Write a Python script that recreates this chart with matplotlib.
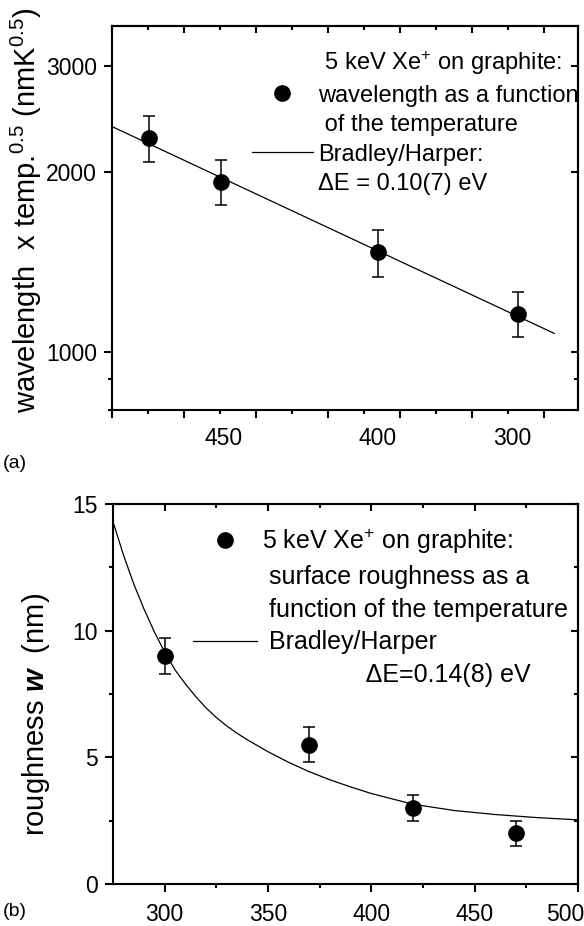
import numpy as np
import matplotlib.pyplot as plt
from matplotlib.lines import Line2D
from matplotlib.ticker import NullFormatter
from matplotlib.transforms import ScaledTranslation

plt.rcParams['font.family'] = ['Liberation Sans', 'DejaVu Sans']
plt.rcParams['mathtext.fontset'] = 'custom'
plt.rcParams['mathtext.rm'] = 'Liberation Sans'
plt.rcParams['mathtext.it'] = 'Liberation Sans:italic'
plt.rcParams['mathtext.bf'] = 'Liberation Sans:bold'
plt.rcParams['mathtext.bfit'] = 'Liberation Sans:italic:bold'

# (a) wavelength x temp^0.5, x axis in arbitrary inverse-temperature units
x_wave = [0.514, 1.51, 3.69, 5.63]
y_wave = [2274, 1924, 1466, 1159]
err_wave = [200, 168, 130, 99]
x_wave_fit = [0.0, 6.14]
y_wave_fit = [2377, 1074]
temp_labels = ['450', '400', '300']
temp_label_pos = [1.54, 3.69, 5.55]

# (b) roughness vs temperature
temp = [300, 370, 420, 470]
rough = [9.0, 5.5, 3.0, 2.0]
err_rough = [0.7, 0.7, 0.5, 0.5]
temp_fit = [275, 280, 285, 290, 295, 300, 305, 310, 315, 320, 325, 330, 335, 340,
            350, 360, 370, 380, 390, 400, 420, 440, 460, 480, 500]
rough_fit = [14.3, 13.0, 11.85, 10.85, 9.95, 9.15, 8.45, 7.9, 7.4, 6.95, 6.57, 6.24,
             5.95, 5.69, 5.22, 4.8, 4.43, 4.11, 3.83, 3.57, 3.15, 2.9, 2.74, 2.62, 2.53]


def inner_ticks(ax, xmaj, xmin, ymaj, ymin):
    top = ax.secondary_xaxis('top')
    top.set_xticks(xmaj)
    top.set_xticks(xmin, minor=True)
    top.tick_params(which='both', direction='in', labeltop=False, width=1.5)
    top.tick_params(which='major', length=5)
    top.tick_params(which='minor', length=3)
    top.xaxis.set_minor_formatter(NullFormatter())
    right = ax.secondary_yaxis('right')
    right.set_yticks(ymaj)
    right.set_yticks(ymin, minor=True)
    right.tick_params(which='both', direction='in', labelright=False, width=1.5)
    right.tick_params(which='major', length=5)
    right.tick_params(which='minor', length=3)
    right.yaxis.set_minor_formatter(NullFormatter())
    for sec in (top, right):
        for s in sec.spines.values():
            s.set_linewidth(1.5)


def style(ax):
    for s in ax.spines.values():
        s.set_linewidth(1.5)
    ax.tick_params(which='both', direction='out', width=1.5, labelsize=16.5)
    ax.tick_params(which='major', length=5.5)
    ax.tick_params(which='minor', length=3)
    ax.tick_params(axis='y', pad=5.5)
    ax.tick_params(axis='x', pad=6)


fig = plt.figure(figsize=(5.84, 9.26), dpi=100)
ax1 = fig.add_axes([0.1923, 0.5572, 0.7974, 0.4147])
ax2 = fig.add_axes([0.1935, 0.0454, 0.7962, 0.4104])

# ---- (a)
ax1.set_yscale('log')
ax1.errorbar(x_wave, y_wave, yerr=err_wave, fmt='o', color='black', ms=11,
             capsize=4.5, elinewidth=1.1, capthick=1.1)
ax1.plot(x_wave_fit, y_wave_fit, color='black', lw=0.9)
ax1.set_xlim(0, 6.47)
ax1.set_ylim(800, 3500)
ax1.set_yticks([1000, 2000, 3000], labels=['1000', '2000', '3000'])
ax1.set_yticks([800, 900], minor=True)
ax1.yaxis.set_minor_formatter(NullFormatter())
ax1.set_xticks(range(7), labels=[''] * 7)
ax1.set_xticks(np.arange(0.5, 6.5, 1), minor=True)
style(ax1)
for p, lab in zip(temp_label_pos, temp_labels):
    ax1.text(p, -0.045, lab, transform=ax1.get_xaxis_transform(),
             ha='center', va='top', fontsize=16.5)
inner_ticks(ax1, range(7), np.arange(0.5, 6.5, 1), [1000, 2000, 3000], [800, 900])

blank = Line2D([], [], color='none')
dot = Line2D([], [], marker='o', ls='none', color='black', ms=11)
fitline = Line2D([], [], color='black', lw=0.9)
ax1.legend([blank, dot, blank, fitline, blank],
           [' 5 keV Xe$^{+}$ on graphite:', 'wavelength as a function',
            ' of the temperature', 'Bradley/Harper:', 'ΔE = 0.10(7) eV'],
           loc='upper left', bbox_to_anchor=(0.30, 0.94), frameon=False,
           fontsize=17, borderpad=0, borderaxespad=0, handlelength=2.58,
           handletextpad=0.2, labelspacing=0.32)

fig.text(26 / 584, 1 - 210 / 926,
         'wavelength  x temp.$^{0.5}$ (nmK$^{0.5}$)', rotation=90,
         ha='center', va='center', fontsize=21)
fig.text(0.005, 1 - 463 / 926, '(a)', fontsize=14, va='center')

# ---- (b)
ax2.errorbar(temp, rough, yerr=err_rough, fmt='o', color='black', ms=11,
             capsize=4.5, elinewidth=1.1, capthick=1.1)
ax2.plot(temp_fit, rough_fit, color='black', lw=0.9)
ax2.set_xlim(275, 500)
ax2.set_ylim(0, 15)
ax2.set_xticks([300, 350, 400, 450, 500])
ax2.set_xticks([325, 375, 425, 475], minor=True)
ax2.set_yticks([0, 5, 10, 15])
ax2.set_yticks([2.5, 7.5, 12.5], minor=True)
style(ax2)
ax2.tick_params(axis='x', pad=8)
inner_ticks(ax2, [300, 350, 400, 450, 500], [325, 375, 425, 475],
            [0, 5, 10, 15], [2.5, 7.5, 12.5])
# last label sits against the figure edge, nudge it left
last = ax2.get_xticklabels()[-1]
last.set_transform(last.get_transform() + ScaledTranslation(-13 / 100, 0, fig.dpi_scale_trans))

ax2.legend([dot, blank, blank, fitline, blank],
           ['5 keV Xe$^{+}$ on graphite:', ' surface roughness as a',
            ' function of the temperature', ' Bradley/Harper',
            '               ΔE=0.14(8) eV'],
           loc='upper left', bbox_to_anchor=(0.172, 0.94), frameon=False,
           fontsize=18, borderpad=0, borderaxespad=0, handlelength=2.56,
           handletextpad=0.2, labelspacing=0.35)

fig.text(36 / 584, 1 - 714 / 926, 'roughness $\\mathbfit{w}$  (nm)', rotation=90,
         ha='center', va='center', fontsize=21)
fig.text(0.005, 1 - 911 / 926, '(b)', fontsize=14, va='center')

fig.savefig('out.png', dpi=100)
